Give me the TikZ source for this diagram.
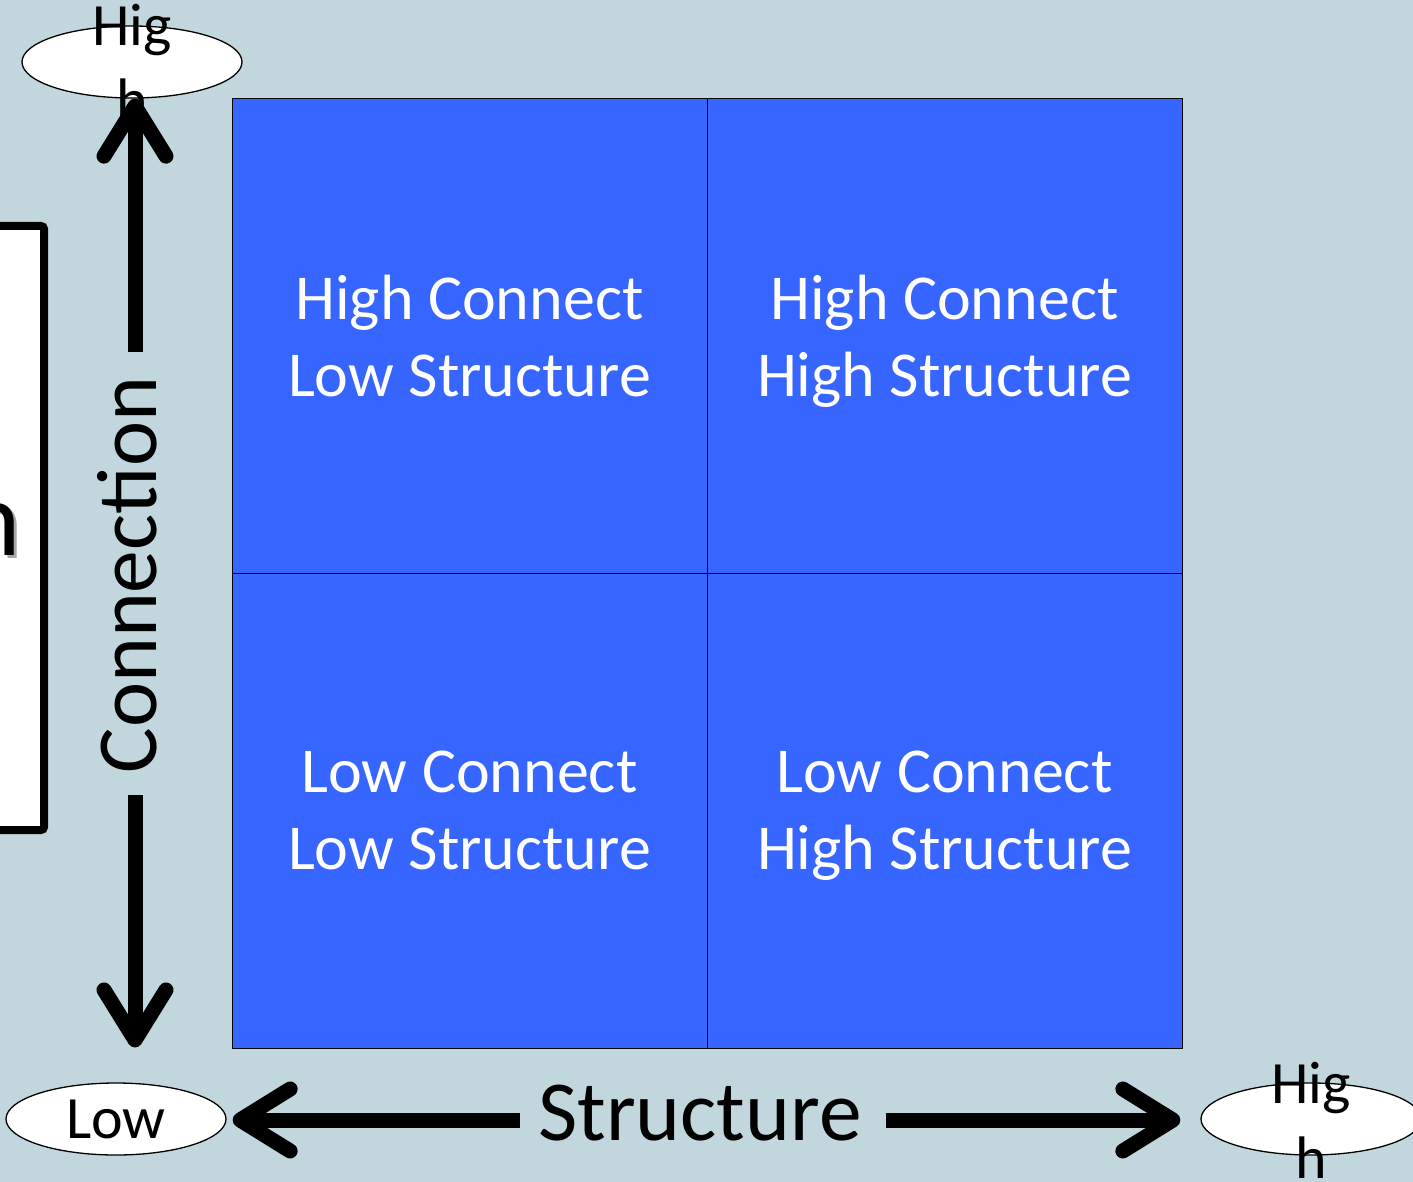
\documentclass[tikz,border=0pt]{standalone}
\usepackage{fontspec}
\setmainfont{Carlito}
\usetikzlibrary{shapes.geometric,arrows.meta}
\definecolor{bgc}{RGB}{193,215,221}
\definecolor{cellblue}{RGB}{54,101,255}
\begin{document}
\begin{tikzpicture}[x=1pt,y=-1pt,
 cell/.style={draw=black,line width=0.9pt,fill=cellblue,minimum width=475pt,minimum height=475pt,inner sep=0pt,text=white,align=center,text depth=0pt,font=\fontsize{64}{77}\selectfont},
 ell/.style={ellipse,draw=black,line width=1.3pt,fill=white,minimum width=220pt,minimum height=72pt,inner sep=0pt},
 elltext/.style={font=\fontsize{60}{75}\selectfont,align=center,inner sep=0pt},
 axislabel/.style={font=\fontsize{85.5}{100}\selectfont,inner sep=0pt},
 bigarrow/.style={line width=15pt,-{Straight Barb[length=50pt,width=62pt,round]}}
]
\useasboundingbox (0,0) rectangle (1413,1182);
\clip (0,0) rectangle (1413,1182);
\fill[bgc] (0,0) rectangle (1413,1182);

% left partial box
\draw[line width=8pt,fill=white,rounded corners=3pt] (-30,226) rectangle (44,830);
\node[font=\fontsize{107}{120}\selectfont,anchor=base east,inner sep=0pt,text=black!35] (nshadow) at (24,558) {n};
\node[font=\fontsize{107}{120}\selectfont,anchor=base east,inner sep=0pt] (nchar) at (21,555) {n};

% grid cells
\node[cell] (hl) at (469.5,335.5) {High Connect\\Low Structure};
\node[cell] (hh) at (944.5,335.5) {High Connect\\High Structure};
\node[cell] (ll) at (469.5,810.5) {Low Connect\\Low Structure};
\node[cell] (lh) at (944.5,810.5) {Low Connect\\High Structure};

% ellipses
\node[ell] (hightop) at (132,62) {};
\node[elltext] (hightoptext) at (132,62) {Hig\\h};
\node[ell] (lowell) at (116,1119) {};
\node[elltext] (lowtext) at (116,1119) {Low};
\node[ell] (highright) at (1311,1119) {};
\node[elltext] (highrighttext) at (1311,1120) {Hig\\h};

% axis labels
\node[axislabel,rotate=90,anchor=base] (conn) at (156,575) {Connection};
\node[axislabel,anchor=base] (struct) at (700,1140) {Structure};

% arrows
\coordinate (cupstart) at (135,352);
\coordinate (cdownstart) at (135,795);
\coordinate (sleftstart) at (520,1120);
\coordinate (srightstart) at (886,1120);
\draw[bigarrow] (cupstart) -- (cupstart |- hightop.south);
\draw[bigarrow] (cdownstart) -- ([yshift=1pt]cdownstart |- ll.south);
\draw[bigarrow] (sleftstart) -- ([xshift=6pt]lowell.east |- sleftstart);
\draw[bigarrow] (srightstart) -- ([xshift=-20pt]highright.west |- srightstart);
\end{tikzpicture}
\end{document}
